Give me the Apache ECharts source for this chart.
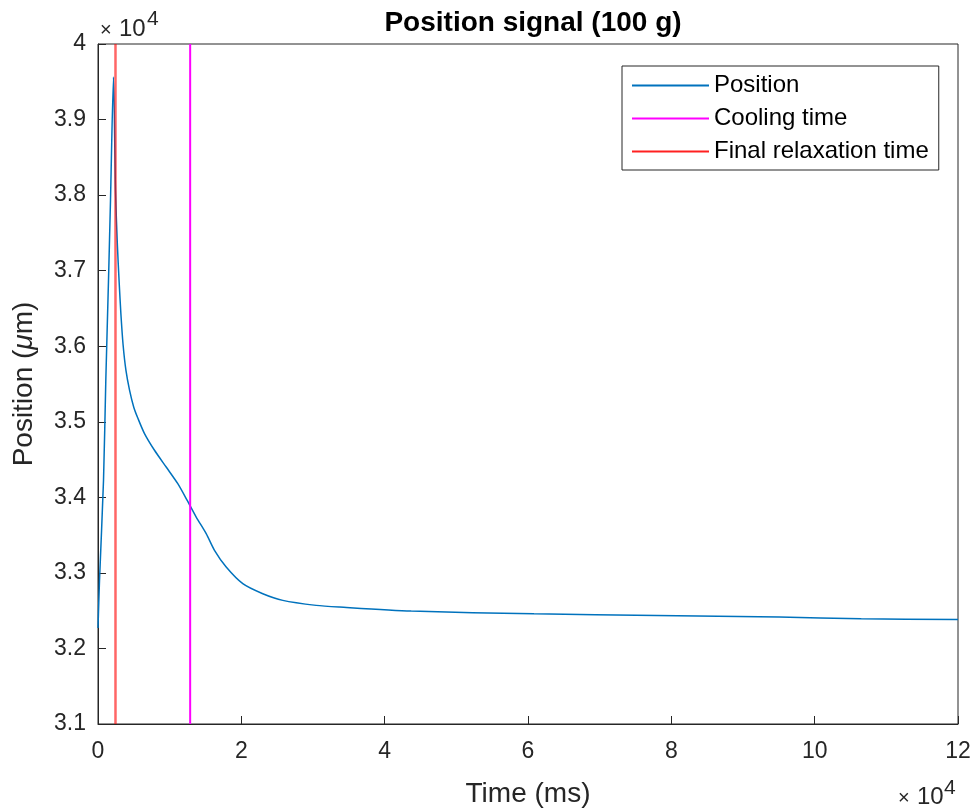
<!DOCTYPE html>
<html>
<head>
<meta charset="utf-8">
<script src="https://cdn.jsdelivr.net/npm/echarts@6/dist/echarts.min.js"></script>
<style>
html,body{margin:0;padding:0;background:#ffffff;}
#chart{width:979px;height:812px;}
</style>
</head>
<body>
<div id="chart"></div>
<script>
// ---- data ----
const timeMs = [0, 210, 770, 1090, 1465, 1745, 2160, 2440, 2700, 2950, 3200, 3500, 3900, 4400, 5000, 5553, 6488, 7883, 9516, 11134, 12446, 13702, 15097, 16255, 17888, 20204, 22995, 25785, 30445, 33696, 43700, 60830, 77950, 95070, 106500, 120000];
const positionUm = [32270, 32901, 34225, 35550, 36874, 37934, 39563, 38066, 37350, 36850, 36420, 36020, 35680, 35420, 35190, 35050, 34844, 34623, 34401, 34181, 33960, 33739, 33519, 33298, 33077, 32857, 32724, 32636, 32570, 32547, 32494, 32459, 32437, 32415, 32393, 32384];
const coolingTimeMs = [12860];
const relaxTimeMs = [2440];
const seriesNames = ['Position', 'Cooling time', 'Final relaxation time'];
const xTickLabels = ['0', '2', '4', '6', '8', '10', '12'];
const yTickLabels = ['3.1', '3.2', '3.3', '3.4', '3.5', '3.6', '3.7', '3.8', '3.9', '4'];
const xRange = [0, 120000, 20000];
const yRange = [31000, 40000, 1000];

const FONT = "'Liberation Sans', Arial, Helvetica, sans-serif";
const INK = '#262626';

const chart = echarts.init(document.getElementById('chart'), null, {renderer: 'canvas'});

const posData = timeMs.map((t, i) => [t, positionUm[i]]);
const coolData = [[coolingTimeMs[0], yRange[0]], [coolingTimeMs[0], yRange[1]]];
const relaxData = [[relaxTimeMs[0], yRange[0]], [relaxTimeMs[0], yRange[1]]];

function txt(x, y, s, size) {
  return {type: 'text', x: x, y: y, silent: true,
    style: {text: s, font: size + 'px ' + FONT, fill: INK, verticalAlign: 'middle', align: 'left'}};
}

const option = {
  backgroundColor: '#ffffff',
  animation: false,
  title: {
    text: 'Position signal (100 g)',
    left: 528,
    top: 4,
    textAlign: 'center',
    textStyle: {fontFamily: FONT, fontSize: 28, fontWeight: 'bold', color: '#000000'}
  },
  grid: {
    left: 98, right: 21, top: 44, bottom: 88,
    containLabel: false,
    outerBoundsMode: 'none',
    show: true, borderColor: INK, borderWidth: 1, backgroundColor: '#ffffff'
  },
  legend: {
    data: seriesNames,
    orient: 'vertical',
    left: 622,
    top: 66,
    padding: [7, 10, 6, 10],
    itemGap: 8,
    itemWidth: 77,
    itemHeight: 2,
    icon: 'rect',
    borderColor: INK,
    borderWidth: 1,
    backgroundColor: '#ffffff',
    textStyle: {fontFamily: FONT, fontSize: 24, color: '#000000', lineHeight: 25}
  },
  xAxis: {
    type: 'value',
    min: xRange[0], max: xRange[1], interval: xRange[2],
    name: 'Time (ms)',
    nameLocation: 'middle',
    nameGap: 56,
    nameTextStyle: {fontFamily: FONT, fontSize: 28, color: INK},
    axisLine: {show: true, lineStyle: {color: INK, width: 1}},
    axisTick: {show: true, inside: true, length: 8, lineStyle: {color: INK}},
    splitLine: {show: false},
    axisLabel: {
      fontFamily: FONT, fontSize: 23, color: INK, margin: 16,
      formatter: v => xTickLabels[Math.round((v - xRange[0]) / xRange[2])]
    }
  },
  yAxis: {
    type: 'value',
    min: yRange[0], max: yRange[1], interval: yRange[2],
    name: 'Position ({i|μ}m)',
    nameLocation: 'middle',
    nameGap: 60,
    nameTextStyle: {
      fontFamily: FONT, fontSize: 28, color: INK,
      rich: {i: {fontFamily: FONT, fontSize: 28, fontStyle: 'italic', color: INK}}
    },
    axisLine: {show: true, lineStyle: {color: INK, width: 1}},
    axisTick: {show: true, inside: true, length: 8, lineStyle: {color: INK}},
    splitLine: {show: false},
    axisLabel: {
      fontFamily: FONT, fontSize: 23, color: INK, margin: 12,
      formatter: v => yTickLabels[Math.round((v - yRange[0]) / yRange[2])]
    }
  },
  series: [
    {
      name: seriesNames[0], type: 'line', data: posData,
      showSymbol: false, symbol: 'none', smooth: 0.25,
      lineStyle: {color: '#0072BD', width: 1.5},
      itemStyle: {color: '#0072BD'}, z: 2
    },
    {
      name: seriesNames[1], type: 'line', data: coolData,
      showSymbol: false, symbol: 'none',
      lineStyle: {color: '#FF00FF', width: 2},
      itemStyle: {color: '#FF00FF'}, z: 3
    },
    {
      name: seriesNames[2], type: 'line', data: relaxData,
      showSymbol: false, symbol: 'none',
      lineStyle: {color: 'rgba(255,0,0,0.6)', width: 2.5},
      itemStyle: {color: '#FF2020'}, z: 4
    }
  ],
  graphic: [
    txt(100, 30, '×', 20),
    txt(119, 29, '10', 24),
    txt(147, 19, '4', 21),
    txt(898, 798, '×', 20),
    txt(917, 797, '10', 24),
    txt(944, 788, '4', 21)
  ]
};
chart.setOption(option);
</script>
</body>
</html>
